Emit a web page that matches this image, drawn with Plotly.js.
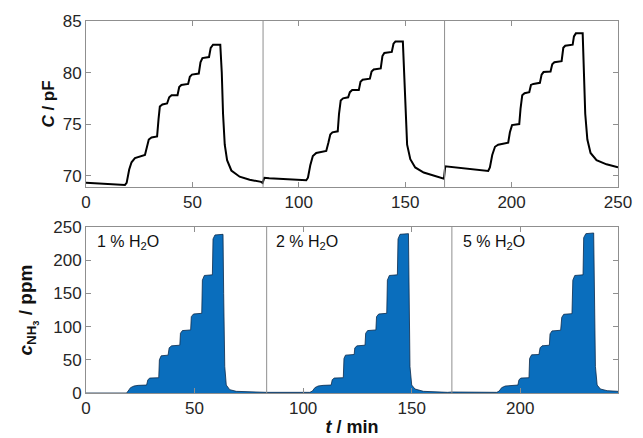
<!DOCTYPE html>
<html>
<head>
<meta charset="utf-8">
<script src="https://cdn.plot.ly/plotly-3.0.1.min.js"></script>
<style>html,body{margin:0;padding:0;background:#fff;}#chart{width:643px;height:438px;}</style>
</head>
<body>
<div id="chart"></div>
<script>
// Capacitance (top panel)
var tC = [0,18.3,19.1,20.3,21.4,23.0,27.7,28.4,29.5,30.8,33.4,34.1,34.7,35.9,38.1,39.1,40.2,43.0,43.8,44.8,48.0,48.8,49.8,53.0,53.8,54.7,57.8,58.6,59.7,63.1,63.8,64.4,65.2,66.3,68.3,72.2,76.9,82.3,
  83.0,83.8,86.1,103.5,104.3,105.4,106.6,108.2,112.9,113.9,114.8,115.8,118.3,118.9,119.7,120.8,123.2,124.0,125.1,128.2,129.0,130.0,133.4,134.2,135.2,138.5,139.3,140.2,143.7,144.5,145.4,148.9,149.5,150.2,150.9,152.4,154.7,158.7,163.4,168.2,
  168.8,171.0,189.0,189.8,190.9,192.2,193.7,198.4,199.2,200.2,203.6,204.2,205.0,206.1,208.3,209.1,210.2,213.3,214.1,215.0,218.3,219.1,220.1,223.5,224.3,225.2,228.7,229.3,230.2,233.4,234.0,234.6,235.6,237.1,239.9,244.6,250];
var cC = [69.3,69.1,69.3,70.6,71.3,71.7,72.0,72.6,73.5,73.7,73.8,75.5,76.7,76.9,77.0,77.6,77.8,77.8,78.6,78.8,78.9,79.6,79.8,79.9,81.0,81.4,81.5,82.4,82.7,82.7,80.0,76.0,73.0,71.5,70.5,69.9,69.6,69.4,
  69.3,69.8,69.75,69.55,69.8,71.0,71.9,72.2,72.4,73.2,74.0,74.2,74.3,76.0,77.3,77.5,77.6,78.1,78.3,78.3,79.1,79.3,79.4,80.1,80.3,80.4,81.6,81.9,82.0,82.8,83.0,83.0,80.0,76.0,73.0,71.6,70.8,70.3,70.0,69.7,
  70.9,70.85,70.45,70.8,72.0,72.8,73.0,73.2,74.2,74.9,75.0,76.5,77.8,78.0,78.1,78.8,78.9,79.0,79.8,80.05,80.1,80.8,81.0,81.1,82.4,82.6,82.7,83.5,83.8,83.8,80.0,76.0,73.5,72.2,71.5,71.1,70.8];

// NH3 concentration (bottom panel)
var tN = [0,18.7,19.4,20.5,22.1,24.0,27.9,28.5,29.4,33.5,33.8,34.6,37.8,38.3,39.4,43.2,43.5,44.4,48.2,48.5,49.5,53.3,53.6,54.5,58.2,58.5,59.4,63.1,63.4,63.9,64.6,66.2,69.2,75.3,81.2,
  83.1,103.1,104.3,105.4,106.9,109.2,112.9,113.4,114.3,118.5,118.8,119.5,123.5,123.8,124.8,128.5,128.8,129.7,133.5,133.8,134.8,138.5,138.8,139.7,143.4,143.7,144.6,148.5,148.8,149.2,150.0,151.5,155.4,161.5,166.6,
  168.5,189.2,190.3,191.4,193.1,195.4,198.9,199.4,200.3,204.0,204.3,205.2,208.6,209.1,210.0,213.4,213.7,214.6,218.6,219.1,220.0,223.8,224.2,225.1,228.9,229.2,230.2,233.8,234.2,234.6,235.4,236.9,240.0,245.0];
var cN = [0,0,3,8,10.5,11.5,12,20,22.5,23,50,56,57,68,71,72,90,94,95,115,119,120,170,177,178,232,238,239,150,40,12,5,2.5,1.5,1,
  1,1,3,8,10.5,11.5,12,20,22.5,23,52,57,58,68,71,72,90,94,95,115,119,120,170,177,178,232,239,240,150,40,12,6,2.5,1.5,1,
  1.5,1,3,8,10.5,11.5,12,20,22.5,23,52,57.5,58,68,71,72,89,93.5,94.5,114,118.5,119.5,170,177,178,234,240,241,150,40,12,6,3.5,2.5];

var switchTimes = [83.2, 168.5];
var labelTimes = [4.1, 86.6, 172.7];
var labelTexts = ['1 % H<sub>2</sub>O', '2 % H<sub>2</sub>O', '5 % H<sub>2</sub>O'];
var topTicks = [0, 50, 100, 150, 200, 250];
var botTicks = [0, 50, 100, 150, 200];

var FONT = 'Liberation Sans, Arial, Helvetica, sans-serif';
var axisCol = '#8f8f8f';
var tickFont = {family: FONT, size: 17, color: '#262626'};

var traces = [
  {x: tC, y: cC, type: 'scatter', mode: 'lines', line: {color: '#000', width: 2}, xaxis: 'x', yaxis: 'y', hoverinfo: 'skip'},
  {x: tN, y: cN, type: 'scatter', mode: 'lines', fill: 'tozeroy', fillcolor: '#0a6ebd', line: {color: '#0b2a4a', width: 0.8}, xaxis: 'x2', yaxis: 'y2', hoverinfo: 'skip'}
];

var shapes = [];
switchTimes.forEach(function (s) {
  shapes.push({type: 'line', xref: 'x', yref: 'y domain', x0: s, x1: s, y0: 0, y1: 1, line: {color: axisCol, width: 1}});
  shapes.push({type: 'line', xref: 'x2', yref: 'y2 domain', x0: s, x1: s, y0: 0, y1: 1, line: {color: axisCol, width: 1}});
});

var annotations = labelTimes.map(function (t, i) {
  return {x: t, y: 227, xref: 'x2', yref: 'y2', text: labelTexts[i], showarrow: false, xanchor: 'left', yanchor: 'middle',
    font: {family: FONT, size: 16, color: '#111'}};
});

var axCommon = {showgrid: false, zeroline: false, showline: true, linecolor: axisCol, linewidth: 1, mirror: 'ticks',
  ticks: 'inside', ticklen: 5, tickcolor: axisCol, tickfont: tickFont};

var layout = {
  width: 643, height: 438,
  margin: {l: 86, r: 25, t: 21, b: 45},
  paper_bgcolor: '#fff', plot_bgcolor: '#fff',
  showlegend: false,
  xaxis: Object.assign({}, axCommon, {domain: [0, 1], range: [0, 250], tickvals: topTicks, anchor: 'y'}),
  yaxis: Object.assign({}, axCommon, {domain: [0.5538, 1], range: [68.9, 85], tickvals: [70, 75, 80, 85], anchor: 'x',
    title: {text: '<b><i>C</i> / pF</b>', font: {family: FONT, size: 17, color: '#111'}, standoff: 3}}),
  xaxis2: Object.assign({}, axCommon, {domain: [0, 1], range: [0, 245], tickvals: botTicks, anchor: 'y2',
    title: {text: '<b><i>t</i> / min</b>', font: {family: FONT, size: 18, color: '#111'}, standoff: 2}}),
  yaxis2: Object.assign({}, axCommon, {domain: [0, 0.4462], range: [0, 250], tickvals: [0, 50, 100, 150, 200, 250], anchor: 'x2',
    title: {text: '<b><i>c</i><sub>NH<sub>3</sub></sub> / ppm</b>', font: {family: FONT, size: 19, color: '#111'}, standoff: 15}}),
  shapes: shapes,
  annotations: annotations
};

Plotly.newPlot('chart', traces, layout, {displayModeBar: false, staticPlot: true});
</script>
</body>
</html>
